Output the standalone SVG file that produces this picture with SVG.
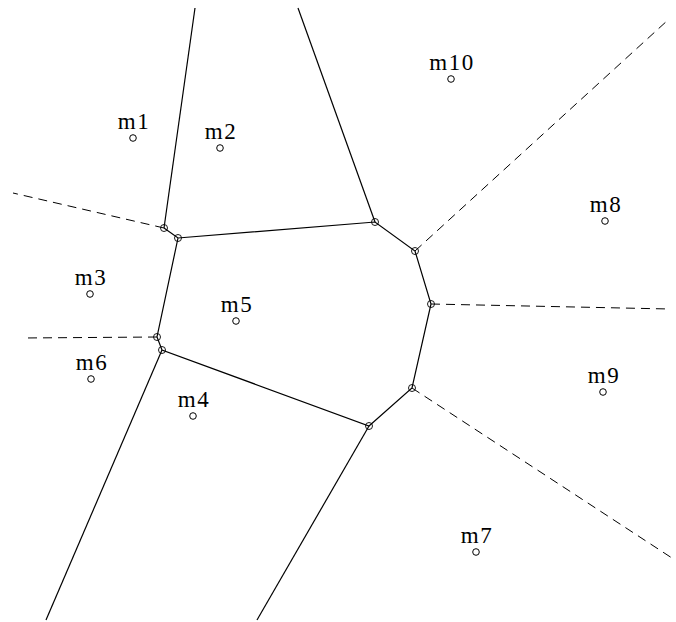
<svg xmlns="http://www.w3.org/2000/svg" width="676" height="622" viewBox="0 0 676 622">
<style>
.s{stroke:#000;stroke-width:1.2;fill:none}
.d{stroke:#000;stroke-width:1;fill:none;stroke-dasharray:9 6}
.v{stroke:#000;stroke-width:0.9;fill:none}
.p{stroke:#000;stroke-width:1;fill:#fff}
text{font-family:"Liberation Serif","DejaVu Serif",serif;font-size:23px;letter-spacing:1.5px;text-anchor:middle;fill:#000}
</style>
<rect width="676" height="622" fill="#fff"/>
<g id="connectors">
<line class="s" x1="164" y1="228" x2="195" y2="8"/>
<line class="s" x1="375" y1="222" x2="298" y2="8"/>
<line class="d" x1="164" y1="228" x2="13" y2="193"/>
<line class="d" x1="157" y1="337" x2="22" y2="338"/>
<line class="s" x1="162" y1="350" x2="46" y2="620"/>
<line class="s" x1="369" y1="426" x2="257" y2="620"/>
<line class="d" x1="412" y1="388" x2="675" y2="560"/>
<line class="d" x1="431" y1="304" x2="670" y2="309"/>
<line class="d" x1="415" y1="251" x2="668" y2="20"/>
<polyline class="s" points="164,228 178,238 375,222 415,251 431,304 412,388 369,426 162,350 157,337 178,238"/>
</g>
<g id="vertices">
<circle class="v" cx="164" cy="228" r="3.5"/>
<circle class="v" cx="178" cy="238" r="3.5"/>
<circle class="v" cx="375" cy="222" r="3.5"/>
<circle class="v" cx="415" cy="251" r="3.5"/>
<circle class="v" cx="431" cy="304" r="3.5"/>
<circle class="v" cx="412" cy="388" r="3.5"/>
<circle class="v" cx="369" cy="426" r="3.5"/>
<circle class="v" cx="162" cy="350" r="3.5"/>
<circle class="v" cx="157" cy="337" r="3.5"/>
</g>
<g id="m1"><circle class="p" cx="133" cy="138" r="3.3"/><text x="134" y="129">m1</text></g>
<g id="m2"><circle class="p" cx="220" cy="148" r="3.3"/><text x="221" y="139">m2</text></g>
<g id="m10"><circle class="p" cx="451" cy="79" r="3.3"/><text x="452" y="70">m10</text></g>
<g id="m8"><circle class="p" cx="605" cy="221" r="3.3"/><text x="606" y="212">m8</text></g>
<g id="m3"><circle class="p" cx="90" cy="294" r="3.3"/><text x="91" y="285">m3</text></g>
<g id="m5"><circle class="p" cx="236" cy="321" r="3.3"/><text x="237" y="312">m5</text></g>
<g id="m6"><circle class="p" cx="91" cy="379" r="3.3"/><text x="92" y="370">m6</text></g>
<g id="m4"><circle class="p" cx="193" cy="416" r="3.3"/><text x="194" y="407">m4</text></g>
<g id="m9"><circle class="p" cx="603" cy="392" r="3.3"/><text x="604" y="383">m9</text></g>
<g id="m7"><circle class="p" cx="476" cy="552" r="3.3"/><text x="477" y="543">m7</text></g>
</svg>
